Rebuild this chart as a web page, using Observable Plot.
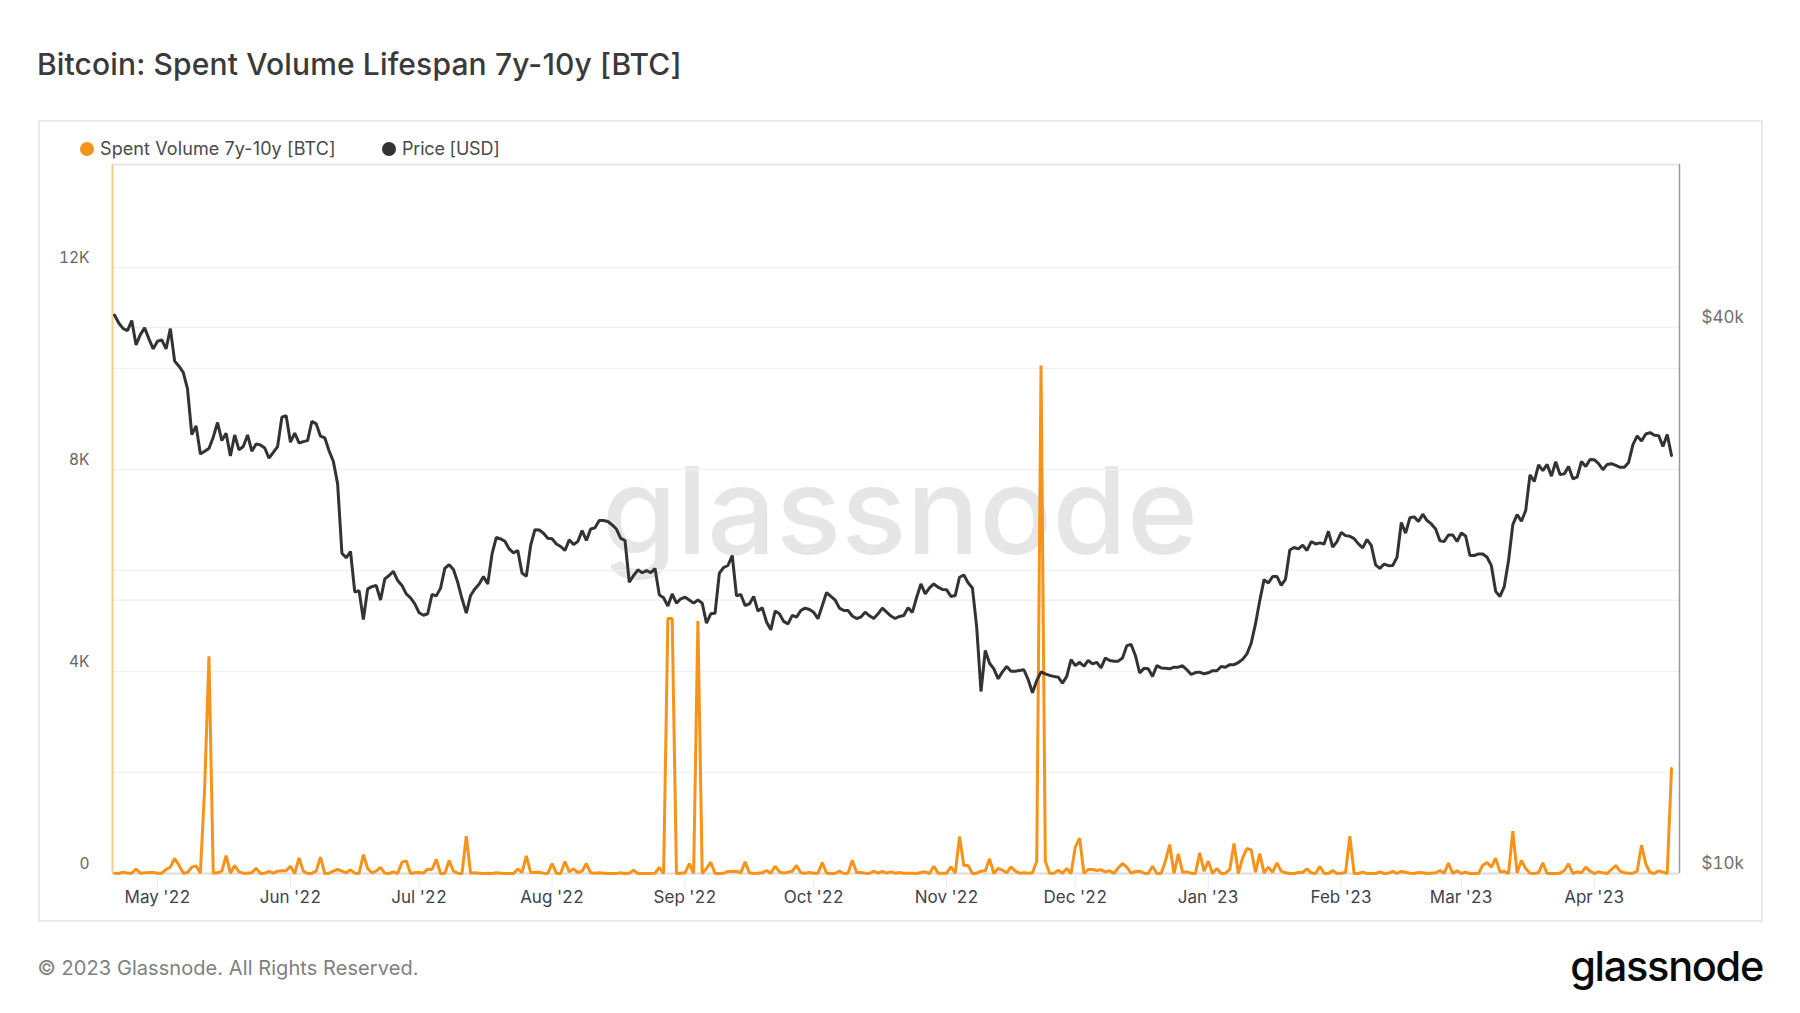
<!DOCTYPE html>
<html>
<head>
<meta charset="utf-8">
<script src="https://cdn.jsdelivr.net/npm/d3@7"></script>
<script src="https://cdn.jsdelivr.net/npm/@observablehq/plot@0.6"></script>
<style>
html,body{margin:0;padding:0;background:#fff;width:1800px;height:1013px;overflow:hidden;font-family:Inter,sans-serif}
#title{position:absolute;left:37px;top:44px;font-size:30px;font-weight:500;color:#3a3a3a;line-height:40px;white-space:nowrap;letter-spacing:.14px}
#frame{position:absolute;left:38px;top:120px;width:1725px;height:802px;box-shadow:inset 0 0 0 2px #e9e9e9}
#frame svg{position:absolute;left:0;top:0;background:transparent;overflow:visible}
.lg{position:absolute;top:17px;font-size:18px;line-height:24px;color:#4a4a4a;white-space:nowrap}
.dot{position:absolute;top:22px;width:14px;height:14px;border-radius:50%}
#foot{position:absolute;left:37.5px;top:954px;font-size:20px;line-height:28px;color:#808080;white-space:nowrap;letter-spacing:.07px}
#logo{position:absolute;right:37px;top:931px;font-size:41.5px;line-height:70px;font-weight:500;color:#0a0a0a;white-space:nowrap;letter-spacing:-1.3px}
</style>
</head>
<body>
<div id="title">Bitcoin: Spent Volume Lifespan 7y-10y [BTC]</div>
<div id="frame">
  <span class="dot" style="left:42px;background:#f7931a"></span><span class="lg" style="left:62px;letter-spacing:.1px">Spent Volume 7y-10y [BTC]</span>
  <span class="dot" style="left:344px;background:#333"></span><span class="lg" style="left:364px;letter-spacing:-.2px">Price [USD]</span>
</div>
<div id="foot">© 2023 Glassnode. All Rights Reserved.</div>
<div id="logo">glassnode</div>
<script>
const startDate = "2022-04-21";
const priceUsd = [
41240,40400,39860,39660,40680,38240,39260,39930,38830,37860,38600,38740,37860,39860,36700,36230,35680,34200,30460,31140,
29000,29200,29400,30260,31410,30000,30570,28850,30430,29300,29550,30430,29200,29750,29670,29440,28700,29120,29550,31830,
31960,29880,30570,29820,29920,30000,31510,31300,30340,30210,29240,28460,26880,22540,22280,22640,20420,20500,19050,20590,
20710,20770,20020,21120,21300,21530,21030,20770,20330,20130,19820,19380,19260,19330,20300,20230,20630,21700,21890,21630,
20940,20080,19360,20250,20590,20850,21250,20850,22500,23470,23380,23240,22790,22560,22700,21430,21260,22990,23930,23910,
23710,23410,23380,23080,22930,22700,23320,23050,23220,23870,23280,23970,24040,24490,24490,24430,24220,23970,23410,23280,
20940,21300,21610,21450,21570,21460,21680,20280,20130,19710,20330,19860,20080,20160,20020,19860,20020,19860,18880,19330,
19360,21430,21740,21850,22410,20230,20300,19740,19820,20200,19460,19630,18930,18560,19460,19330,18960,18840,19250,19170,
19490,19610,19540,19400,19090,19740,20400,20200,20020,19610,19490,19490,19220,19100,19170,19410,19230,19100,19330,19610,
19410,19220,19100,19200,19250,19630,19400,20160,20850,20330,20640,20850,20680,20560,20540,20200,20250,21210,21330,20910,
20640,18690,15870,17610,17050,16810,16390,16680,16910,16710,16710,16740,16770,16360,15820,16320,16680,16600,16530,16490,
16460,16210,16490,17210,16950,17090,16920,17170,17020,17090,16850,17280,17170,17140,17140,17280,17830,17880,17390,16640,
16830,16810,16490,16950,16850,16830,16810,16880,16880,16940,16770,16570,16650,16670,16600,16640,16730,16730,16910,16880,
16990,16990,17080,17220,17460,17940,18840,19990,21080,20900,21250,21250,20770,21100,22730,22870,22790,23010,22700,23220,
23080,23140,23080,23830,22890,23220,23770,23570,23530,23390,23080,22850,23340,22990,21890,21690,21930,21840,21850,22310,
24370,23720,24660,24720,24430,24890,24490,24280,23970,23260,23220,23610,23610,23220,23730,23550,22410,22410,22500,22500,
22310,21840,20460,20200,20710,22130,24240,24870,24450,25120,27500,27040,28210,27800,28240,27410,28430,27520,27570,28090,
27230,27340,28450,28090,28600,28570,28290,27860,28240,28290,28170,28030,28030,28380,29700,30360,29970,30510,30610,30410,
30380,29550,30460,28890
];
const spentVolume = [
7,0,26,7,7,86,7,13,20,20,7,7,79,125,297,165,7,20,125,152,
7,1700,4300,7,13,46,356,7,158,33,7,7,13,106,0,7,40,7,46,53,
53,145,0,310,46,0,7,46,323,0,7,46,79,46,13,73,7,0,376,99,
13,46,119,7,0,33,0,224,251,0,13,20,7,86,79,277,0,0,257,46,
7,0,739,7,13,7,0,7,0,13,7,0,0,0,86,20,350,20,20,26,
7,0,198,7,0,238,33,92,20,46,198,13,7,13,7,0,0,0,13,0,
7,66,0,0,0,0,7,119,0,5050,5050,0,7,13,198,0,5000,0,99,224,
0,0,7,40,40,46,13,231,13,0,7,13,59,7,145,33,7,26,46,158,
13,7,20,7,7,218,7,0,0,46,0,7,264,20,20,7,0,46,7,40,
7,33,7,20,7,7,7,0,20,33,0,145,7,7,7,132,7,733,158,158,
0,7,46,53,290,0,99,66,13,132,46,7,13,7,13,244,10060,244,7,7,
66,7,99,0,528,700,0,79,79,59,73,33,53,0,112,198,125,7,40,46,
7,0,145,0,0,244,574,0,390,26,33,7,0,409,46,244,0,99,0,7,
79,594,0,310,495,469,26,396,13,125,26,211,46,13,0,0,20,20,92,13,
0,139,7,0,59,0,7,20,739,0,0,26,0,0,0,33,0,7,40,0,
40,26,7,0,20,13,0,7,13,59,7,205,0,53,0,26,0,0,0,165,
218,125,304,33,40,0,838,13,257,99,7,0,13,211,0,0,0,7,60,191,
0,33,13,125,46,0,33,13,0,79,158,46,13,7,7,46,561,191,20,0,
53,26,0,2079
];
const dates = priceUsd.map((_, i) => d3.utcDay.offset(new Date(startDate), i));
const volumeRows = spentVolume.map((v, i) => ({date: dates[i], v}));
const priceRows = priceUsd.map((p, i) => ({date: dates[i], p}));

const xDomain = [new Date("2022-04-20T12:14:00Z"), new Date("2023-04-20T20:38:00Z")];
const volumeDomain = [0, 14040];
const priceDomain = [10000, 60450];
const volumeGrid = [2000, 4000, 6000, 8000, 10000, 12000];
const priceGrid = [20000, 40000];
const volumeTicks = [0, 4000, 8000, 12000];
const priceTicks = [10000, 40000];
const monthTicks = ["2022-05-01","2022-06-01","2022-07-01","2022-08-01","2022-09-01","2022-10-01","2022-11-01","2022-12-01","2023-01-01","2023-02-01","2023-03-01","2023-04-01"].map(s => new Date(s));
const monthFmt = d3.utcFormat("%b '%y");

const base = {
  width: 1725, height: 802,
  marginLeft: 74, marginRight: 84, marginTop: 44, marginBottom: 49,
  x: {domain: xDomain, axis: null},
  style: {background: "transparent", fontFamily: "Inter, sans-serif", fontSize: "17px", overflow: "visible"}
};
const kFmt = v => v === 0 ? "0" : (v / 1000) + "K";
const usdFmt = v => "$" + (v / 1000) + "k";

// bottom layer: watermark, price grid, right axis
const under = Plot.plot({
  ...base,
  y: {type: "log", domain: priceDomain, axis: null},
  marks: [
    Plot.text(["glassnode"], {frameAnchor: "middle", dx: 4, dy: -4, fontSize: 121, fontWeight: 500, fill: "#e6e6e6", fontFamily: "Inter, sans-serif"}),
    Plot.ruleY(priceGrid, {stroke: "#f1f1f1", strokeWidth: 1.5}),
    Plot.axisY({anchor: "right", ticks: priceTicks, tickFormat: usdFmt, tickSize: 0, tickPadding: 22, dy: -10, fill: "#707070", label: null})
  ]
});

// middle layer: volume scale, frame lines, x axis, orange series
const middle = Plot.plot({
  ...base,
  y: {domain: volumeDomain, axis: null},
  marks: [
    Plot.ruleY(volumeGrid, {stroke: "#f1f1f1", strokeWidth: 1.5}),
    Plot.ruleY([volumeDomain[1]], {stroke: "#e6e6e6", strokeWidth: 2}),
    Plot.ruleY([0], {stroke: "#dcdcdc", strokeWidth: 2}),
    Plot.ruleX([xDomain[0]], {stroke: "#fbc98a", strokeWidth: 2}),
    Plot.ruleX([xDomain[1]], {stroke: "#9a9a9a", strokeWidth: 1.5}),
    Plot.axisX({ticks: monthTicks, tickFormat: monthFmt, tickSize: 15, tickPadding: 2, stroke: "#ececec", fill: "#3e4250", label: null}),
    Plot.axisY({ticks: volumeTicks, tickFormat: kFmt, tickSize: 0, tickPadding: 23, dy: -9, fontSize: 15.5, fill: "#666", label: null}),
    Plot.line(volumeRows, {x: "date", y: "v", stroke: "#f7931a", strokeWidth: 3, strokeLinejoin: "miter"})
  ]
});

// top layer: price series on its own log scale
const top_ = Plot.plot({
  ...base,
  y: {type: "log", domain: priceDomain, axis: null},
  marks: [
    Plot.line(priceRows, {x: "date", y: "p", stroke: "#333333", strokeWidth: 3, strokeLinejoin: "miter"})
  ]
});
const frame = document.getElementById("frame");
frame.append(under, middle, top_);
</script>
</body>
</html>
